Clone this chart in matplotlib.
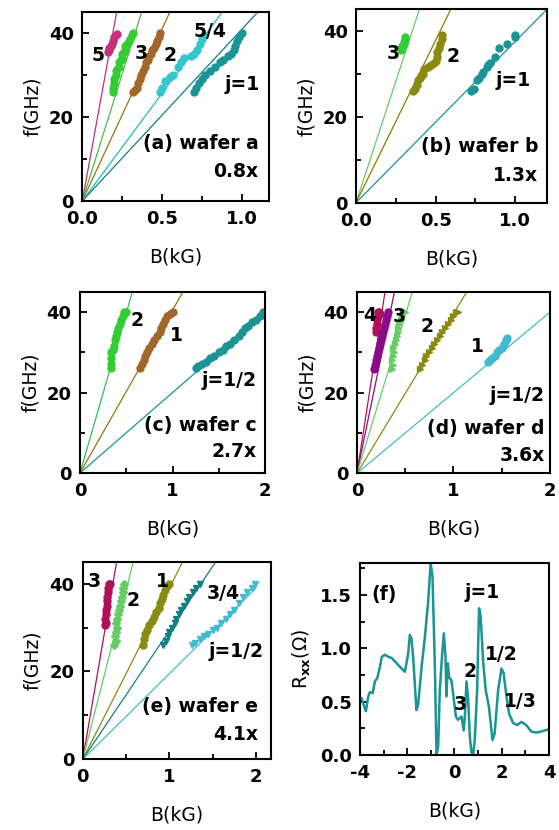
import numpy as np
import matplotlib
matplotlib.use("Agg")
import matplotlib.pyplot as plt
from matplotlib.ticker import MultipleLocator, FormatStrFormatter

plt.rcParams['font.family'] = ['DejaVu Sans']
plt.rcParams['font.weight'] = 'bold'
plt.rcParams['font.size'] = 13
plt.rcParams['mathtext.fontset'] = 'custom'
plt.rcParams['mathtext.rm'] = 'DejaVu Sans:bold'
plt.rcParams['mathtext.it'] = 'DejaVu Sans:bold'
plt.rcParams['mathtext.bf'] = 'DejaVu Sans:bold'

# ---------------- (a) wafer a ----------------
a5_B = [0.16, 0.165, 0.17, 0.18, 0.185, 0.19, 0.20, 0.21, 0.215]
a5_f = [35.5, 36.0, 36.5, 37.0, 37.5, 38.0, 39.0, 39.5, 39.8]
a3_B = [0.19, 0.19, 0.20, 0.20, 0.21, 0.21, 0.22, 0.23, 0.23, 0.24, 0.25, 0.25, 0.26, 0.27, 0.27, 0.28, 0.29, 0.30, 0.31, 0.32]
a3_f = [26, 27, 28, 29, 30, 31, 31.5, 32, 33, 33.5, 34, 35, 35.5, 36, 37, 37.5, 38, 38.5, 39.5, 40]
a2_B = [0.32, 0.33, 0.34, 0.35, 0.36, 0.37, 0.38, 0.39, 0.40, 0.41, 0.42, 0.43, 0.44, 0.45, 0.46, 0.47, 0.48, 0.49]
a2_f = [26, 26.5, 27, 28, 29, 30, 31, 32, 33, 33.5, 34.5, 35, 36, 36.5, 37.5, 38, 39, 40]
a54_B = [0.49, 0.50, 0.52, 0.55, 0.57, 0.60, 0.62, 0.64, 0.68, 0.70, 0.72, 0.74, 0.75, 0.76]
a54_f = [26, 27, 28.5, 29.5, 30, 32, 33, 34, 34.5, 35, 36, 37.5, 38.5, 39.5]
a1_B = [0.70, 0.71, 0.73, 0.75, 0.77, 0.80, 0.83, 0.86, 0.88, 0.91, 0.93, 0.95, 0.96, 0.97, 0.98, 1.0]
a1_f = [26, 27, 28, 29, 30, 31, 32, 33, 33.5, 34.5, 35, 36, 37, 38, 39, 40]
a_slopes = [209, 121, 82, 51.3, 40.9]

# ---------------- (b) wafer b ----------------
b3_B = [0.28, 0.285, 0.29, 0.30, 0.30, 0.305, 0.31]
b3_f = [35.5, 36, 36.5, 37, 37.5, 38, 38.5]
b2_B = [0.36, 0.37, 0.38, 0.39, 0.40, 0.41, 0.42, 0.43, 0.45, 0.47, 0.49, 0.50, 0.51, 0.51, 0.52, 0.53, 0.54, 0.54]
b2_f = [26, 26.5, 27.5, 28.5, 29, 29.5, 30, 31, 31.5, 32, 32.5, 33, 34, 35, 36, 37, 38, 39]
b1_B = [0.72, 0.74, 0.76, 0.77, 0.79, 0.80, 0.82, 0.83, 0.84, 0.87, 0.90, 0.95, 1.0, 1.0]
b1_f = [26, 26.5, 28.5, 29, 30, 30.5, 31.5, 32, 32.5, 34, 36, 37, 38.5, 39]
b_slopes = [113, 75.6, 37.5]

# ---------------- (c) wafer c ----------------
c2_B = [0.33, 0.34, 0.34, 0.33, 0.36, 0.37, 0.38, 0.39, 0.40, 0.41, 0.43, 0.44, 0.46, 0.48, 0.50]
c2_f = [26, 27, 28.5, 30, 30.5, 31.5, 33, 34, 35, 36, 37, 38, 39, 40, 40]
c1_B = [0.65, 0.67, 0.69, 0.70, 0.72, 0.75, 0.78, 0.80, 0.83, 0.86, 0.88, 0.90, 0.92, 0.94, 0.97, 1.01]
c1_f = [26, 27, 28, 29, 30, 31, 32, 33, 34, 35, 36, 37, 38, 39, 39.5, 40]
ch_B = [1.25, 1.28, 1.32, 1.36, 1.40, 1.45, 1.50, 1.55, 1.58, 1.62, 1.67, 1.72, 1.75, 1.78, 1.82, 1.86, 1.90, 1.95, 1.98]
ch_f = [26, 26.5, 27, 27.5, 28.5, 29, 30, 30.5, 31.5, 32, 33, 34, 35, 36, 36.5, 37.5, 38, 39, 40]
c_slopes = [79.6, 40.5, 20.0]

# ---------------- (d) wafer d ----------------
d4_B = [0.20, 0.20, 0.21, 0.21, 0.22, 0.22, 0.23, 0.24]
d4_f = [35, 36, 37, 38, 39, 40, 40, 39.5]
d3_B = [0.18, 0.19, 0.20, 0.21, 0.22, 0.23, 0.24, 0.25, 0.26, 0.27, 0.28, 0.29, 0.30, 0.31, 0.32]
d3_f = [26, 27, 28, 29, 30, 31, 32, 33, 34, 35, 36, 37, 38, 39, 40]
d2_B = [0.36, 0.37, 0.36, 0.37, 0.38, 0.37, 0.39, 0.40, 0.41, 0.42, 0.43, 0.44, 0.46, 0.47, 0.48, 0.50]
d2_f = [26, 27, 28, 29, 30, 31, 32, 33, 34, 35, 36, 37, 38, 39, 40, 40]
d1_B = [0.65, 0.67, 0.70, 0.72, 0.75, 0.78, 0.80, 0.83, 0.86, 0.88, 0.91, 0.94, 0.97, 1.00, 1.03, 1.05]
d1_f = [26, 27, 28, 29, 30, 31, 32, 33, 34, 35, 36, 37, 38, 39, 40, 40]
dh_B = [1.36, 1.38, 1.40, 1.43, 1.45, 1.47, 1.50, 1.52, 1.54, 1.55]
dh_f = [27.5, 28, 28.5, 29, 30, 30.5, 31, 32, 33, 33.5]
d_slopes = [155, 116, 78.4, 39.6, 20.0]

# ---------------- (e) wafer e ----------------
e3_B = [0.26, 0.27, 0.26, 0.27, 0.27, 0.28, 0.28, 0.28, 0.29, 0.29, 0.30, 0.31]
e3_f = [30.5, 31, 32, 33, 34, 35, 36, 37, 38, 39, 40, 40]
e2_B = [0.36, 0.38, 0.37, 0.38, 0.39, 0.38, 0.40, 0.41, 0.42, 0.43, 0.44, 0.45, 0.46, 0.47, 0.48]
e2_f = [26, 27, 28, 29, 30, 31, 32, 33, 34, 35, 36, 37, 38, 39, 40]
e1_B = [0.70, 0.71, 0.72, 0.74, 0.77, 0.80, 0.82, 0.85, 0.88, 0.89, 0.91, 0.93, 0.95, 0.97, 1.0]
e1_f = [26, 27.5, 28.5, 29.5, 30.5, 31.5, 32.5, 33.5, 34.5, 35.5, 36.5, 37.5, 38.5, 39.5, 40]
e34_B = [0.93, 0.96, 0.98, 1.00, 1.03, 1.06, 1.08, 1.11, 1.14, 1.17, 1.20, 1.23, 1.27, 1.31, 1.35]
e34_f = [26, 27, 28, 29, 30, 31, 32, 33, 34, 35, 36, 37, 38, 39, 40]
eh_B = [1.26, 1.30, 1.35, 1.40, 1.45, 1.50, 1.55, 1.60, 1.65, 1.70, 1.75, 1.80, 1.85, 1.90, 1.95, 1.99]
eh_f = [26, 26.5, 27.5, 28, 28.5, 29.5, 30, 31, 32, 33, 34, 35.5, 37, 38, 39, 40]
e_slopes = [115, 77, 39, 29.3, 19.5]

# ---------------- (f) Rxx trace ----------------
f_B = [-3.93, -3.86, -3.75, -3.65, -3.58, -3.46, -3.37, -3.27, -3.15, -3.08, -2.94, -2.80,
       -2.66, -2.45, -2.24, -2.10, -1.96, -1.89, -1.82, -1.75, -1.61, -1.54, -1.39, -1.25,
       -1.11, -1.01, -0.93, -0.83, -0.76, -0.69, -0.62, -0.52, -0.45, -0.38, -0.34, -0.28,
       -0.23, -0.13, -0.06, 0.06, 0.15, 0.30, 0.39, 0.44, 0.51, 0.58, 0.65, 0.72, 0.79,
       0.86, 0.96, 1.04, 1.11, 1.21, 1.32, 1.46, 1.61, 1.70, 1.85, 1.99, 2.08, 2.20, 2.31,
       2.48, 2.65, 2.83, 3.04, 3.25, 3.46, 3.68, 3.82, 4.0]
f_R = [0.53, 0.48, 0.41, 0.55, 0.59, 0.58, 0.69, 0.72, 0.83, 0.92, 0.94, 0.92,
       0.91, 0.86, 0.81, 0.78, 0.95, 1.125, 1.09, 0.92, 0.42, 0.47, 0.83, 1.11,
       1.45, 1.80, 1.67, 0.83, 0.0, 0.08, 0.61, 0.95, 1.14, 0.92, 0.55, 0.86,
       0.73, 0.70, 0.58, 0.36, 0.33, 0.36, 0.23, 0.36, 0.69, 0.52, 0.17, 0.02, 0.0,
       0.14, 0.61, 1.375, 1.30, 0.89, 0.61, 0.45, 0.14, 0.20, 0.61, 0.81, 0.77, 0.55, 0.39,
       0.30, 0.28, 0.31, 0.28, 0.22, 0.21, 0.22, 0.23, 0.24]

MAG = '#c4307c'
GRN = '#33cc33'
LGRN = '#66cc66'
BRN = '#a3662a'
OLV = '#8a8a10'
CYN = '#33c6cc'
TEAL = '#1a9494'
CRIM = '#b0105a'
PURP = '#8a0a8a'
TXT = 13.5


def style(ax, xmax, xmaj, xmin):
    ax.set_xlim(0, xmax)
    ax.set_ylim(0, 45)
    ax.xaxis.set_major_locator(MultipleLocator(xmaj))
    ax.xaxis.set_minor_locator(MultipleLocator(xmin))
    ax.yaxis.set_major_locator(MultipleLocator(20))
    ax.yaxis.set_minor_locator(MultipleLocator(10))
    ax.set_xlabel('B(kG)', labelpad=14, fontsize=TXT)
    ax.set_ylabel('f(GHz)', labelpad=5, fontsize=TXT)


def finish(ax):
    ax.tick_params(which='both', direction='in', top=False, right=False, width=1.3)
    ax.tick_params(which='major', length=5, labelsize=13)
    ax.tick_params(axis='x', which='major', pad=6.5)
    ax.tick_params(axis='y', which='major', pad=6)
    ax.tick_params(which='minor', length=3.5)
    for s in ax.spines.values():
        s.set_linewidth(1.5)


def note(ax, items, ha='center'):
    for t, x, y in items:
        ax.text(x, y, t, transform=ax.transAxes, ha=ha, va='center', fontsize=TXT)


def draw(ax, B, f, slope, mcol, lcol, marker='o', ms=5):
    xe = min(46.0 / slope, 2.0)
    ax.plot([0, xe], [0, slope * xe], color=lcol, lw=0.9)
    ax.plot(B, f, linestyle='none', marker=marker, ms=ms, color=mcol, mec=mcol)


fig = plt.figure(figsize=(5.59, 8.30), dpi=100)

# (a)
ax = fig.add_axes([0.1472, 0.7578, 0.334, 0.2277])
draw(ax, a5_B, a5_f, a_slopes[0], MAG, MAG)
draw(ax, a3_B, a3_f, a_slopes[1], GRN, '#4cb84c')
draw(ax, a2_B, a2_f, a_slopes[2], BRN, '#8a7a10')
draw(ax, a54_B, a54_f, a_slopes[3], CYN, '#22bbbb')
draw(ax, a1_B, a1_f, a_slopes[4], TEAL, '#107f88')
style(ax, 1.17, 0.5, 0.25)
ax.xaxis.set_major_formatter(FormatStrFormatter('%.1f'))
note(ax, [('5', 0.086, 0.772), ('3', 0.318, 0.781), ('2', 0.47, 0.772),
          ('5/4', 0.684, 0.896), ('j=1', 0.854, 0.614)])
note(ax, [('(a) wafer a', 0.943, 0.305), ('0.8x', 0.943, 0.154)], ha='right')
finish(ax)

# (b)
ax = fig.add_axes([0.6369, 0.7558, 0.3417, 0.233])
draw(ax, b3_B, b3_f, b_slopes[0], GRN, LGRN)
draw(ax, b2_B, b2_f, b_slopes[1], OLV, '#8a7d00')
draw(ax, b1_B, b1_f, b_slopes[2], TEAL, TEAL)
style(ax, 1.2, 0.5, 0.25)
ax.xaxis.set_major_formatter(FormatStrFormatter('%.1f'))
note(ax, [('3', 0.195, 0.772), ('2', 0.51, 0.755), ('j=1', 0.824, 0.634)])
note(ax, [('(b) wafer b', 0.955, 0.29), ('1.3x', 0.955, 0.143)], ha='right')
finish(ax)

# (c)
ax = fig.add_axes([0.1431, 0.4301, 0.331, 0.218])
draw(ax, c2_B, c2_f, c_slopes[0], GRN, '#33bb66')
draw(ax, c1_B, c1_f, c_slopes[1], BRN, '#8a7a10')
draw(ax, ch_B, ch_f, c_slopes[2], TEAL, TEAL)
style(ax, 2.0, 1, 0.5)
note(ax, [('2', 0.306, 0.845), ('1', 0.523, 0.762)])
note(ax, [('j=1/2', 0.955, 0.514), ('(c) wafer c', 0.955, 0.265), ('2.7x', 0.955, 0.118)], ha='right')
finish(ax)

# (d)
ax = fig.add_axes([0.6386, 0.4298, 0.3453, 0.2184])
draw(ax, d4_B, d4_f, d_slopes[0], CRIM, CRIM)
draw(ax, d3_B, d3_f, d_slopes[1], PURP, PURP)
draw(ax, d2_B, d2_f, d_slopes[2], LGRN, LGRN, marker='>')
draw(ax, d1_B, d1_f, d_slopes[3], OLV, OLV, marker='>')
draw(ax, dh_B, dh_f, d_slopes[4], '#44bbcc', '#44bbcc')
style(ax, 2.0, 1, 0.5)
note(ax, [('4', 0.064, 0.872), ('3', 0.219, 0.864), ('2', 0.361, 0.809), ('1', 0.625, 0.698)])
note(ax, [('j=1/2', 0.974, 0.43), ('(d) wafer d', 0.974, 0.247), ('3.6x', 0.974, 0.10)], ha='right')
finish(ax)

# (e)
ax = fig.add_axes([0.148, 0.0852, 0.3363, 0.238])
draw(ax, e3_B, e3_f, e_slopes[0], CRIM, CRIM)
draw(ax, e2_B, e2_f, e_slopes[1], LGRN, LGRN, marker='D', ms=4)
draw(ax, e1_B, e1_f, e_slopes[2], OLV, OLV)
draw(ax, e34_B, e34_f, e_slopes[3], '#108080', '#108080', marker='v')
draw(ax, eh_B, eh_f, e_slopes[4], '#44bbcc', '#44bbcc', marker='v')
style(ax, 2.17, 1, 0.5)
note(ax, [('3', 0.062, 0.899), ('2', 0.269, 0.806), ('1', 0.426, 0.899), ('3/4', 0.748, 0.84)])
note(ax, [('j=1/2', 0.96, 0.545), ('(e) wafer e', 0.934, 0.266), ('4.1x', 0.934, 0.123)], ha='right')
finish(ax)

# (f)
ax = fig.add_axes([0.644, 0.0904, 0.338, 0.2313])
ax.plot(f_B, f_R, color='#1a9494', lw=1.8)
ax.set_xlim(-4, 4)
ax.set_ylim(0, 1.8)
ax.xaxis.set_major_locator(MultipleLocator(2))
ax.xaxis.set_minor_locator(MultipleLocator(1))
ax.yaxis.set_major_locator(MultipleLocator(0.5))
ax.yaxis.set_minor_locator(MultipleLocator(0.25))
ax.xaxis.set_major_formatter(FormatStrFormatter('%d'))
ax.yaxis.set_major_formatter(FormatStrFormatter('%.1f'))
ax.set_xlabel('B(kG)', labelpad=14, fontsize=TXT)
ax.set_ylabel('R$_{xx}$(Ω)', labelpad=5, fontsize=TXT)
for t, x, y in [('(f)', -3.0, 1.5), ('j=1', 1.16, 1.52), ('2', 0.66, 0.78),
                ('1/2', 2.0, 0.94), ('3', 0.24, 0.47), ('1/3', 2.78, 0.5)]:
    ax.text(x, y, t, ha='center', va='center', fontsize=TXT)
finish(ax)

fig.savefig('out.png', dpi=100)
